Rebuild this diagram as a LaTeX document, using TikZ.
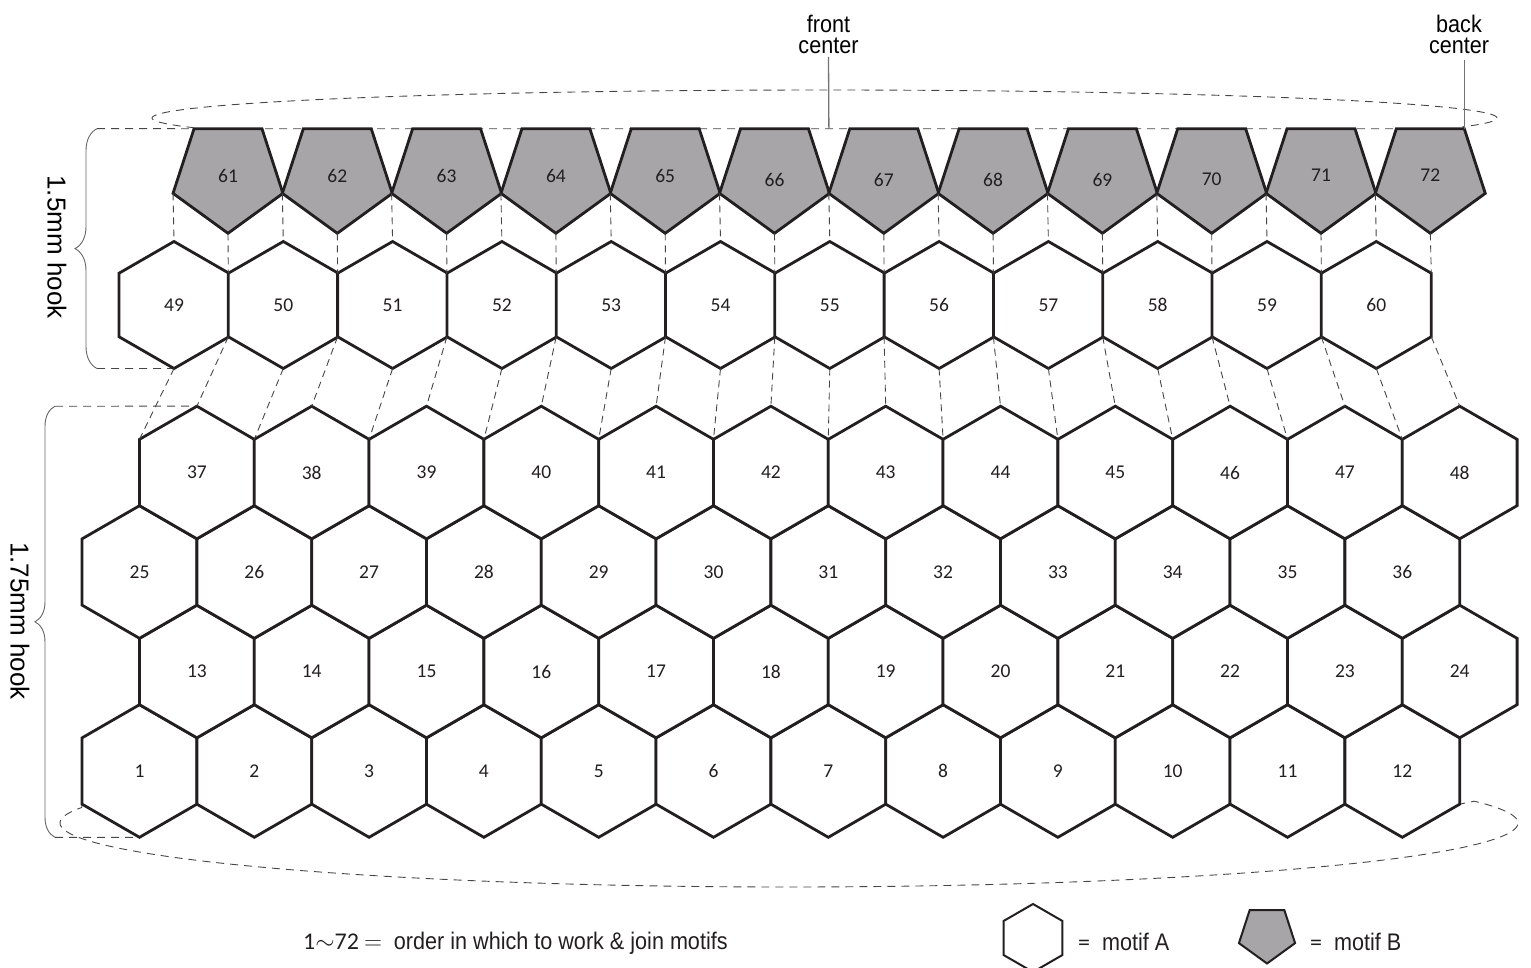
\documentclass[tikz,border=0pt]{standalone}
\usepackage{fontspec}
\setmainfont{Liberation Sans}
\newfontfamily\condfont{Liberation Sans}[FakeStretch=0.9]
\newfontfamily\numfont{Carlito}
\usetikzlibrary{shapes.geometric,decorations.pathreplacing}
\definecolor{ink}{RGB}{35,31,32}
\definecolor{pentgray}{RGB}{167,165,168}
\definecolor{dashgray}{RGB}{70,70,70}
\pgfdeclarelayer{bg}
\pgfsetlayers{bg,main}
\tikzset{
  motif/.style={regular polygon, draw=ink, line width=2.8pt, inner sep=0pt, outer sep=0pt,
    font=\numfont\fontsize{19.5}{21}\selectfont, text=ink, line join=miter},
  hexU/.style={motif, regular polygon sides=6, shape border rotate=30, minimum size=127pt, fill=white},
  hexL/.style={motif, regular polygon sides=6, shape border rotate=30, minimum size=132.6pt, fill=white},
  pent/.style={motif, regular polygon sides=5, shape border rotate=180, minimum size=115.6pt, fill=pentgray},
  conn/.style={draw=dashgray, line width=0.9pt, dash pattern=on 7pt off 5pt},
  guide/.style={draw=dashgray, line width=0.9pt, dash pattern=on 8pt off 6pt},
  leader/.style={draw=black!55, line width=1.3pt},
  bracestyle/.style={draw=black!60, line width=0.9pt, decorate},
  toplabel/.style={font=\condfont\fontsize{24}{21}\selectfont, align=center, inner sep=0pt, anchor=south},
  hooklabel/.style={font=\fontsize{26}{28}\selectfont, rotate=-90, inner sep=0pt},
  legtext/.style={font=\condfont\fontsize{24}{26}\selectfont, inner sep=0pt, anchor=base west, text=ink},
}
\begin{document}
\begin{tikzpicture}[x=1pt,y=-1pt]
\useasboundingbox (0,0) rectangle (1531,968);

% pentagons (motif B), 61-72
\foreach \i in {0,...,11} {
  \pgfmathtruncatemacro\n{61+\i}
  \pgfmathsetmacro\dy{(\i>4 && \i<10) ? -4 : 0}
  \node[pent] (p\i) at ({228+109.3*\i},175.5) {\raisebox{\dy pt}[\height][\depth]{\n}};
}
% upper hexagon row, 49-60
\foreach \i in {0,...,11} {
  \pgfmathtruncatemacro\n{49+\i}
  \node[hexU] (u\i) at ({174+109.3*\i},305) {\n};
}
% lower grid, 1-48
\foreach \r/\base/\off in {0/1/0, 1/13/57.4, 2/25/0, 3/37/57.4} {
  \foreach \i in {0,...,11} {
    \pgfmathtruncatemacro\n{\base+\i}
    \node[hexL] (h\n) at ({139.5+\off+114.8*\i},{771-99.5*\r}) {\n};
  }
}

% dashed joins: pentagons -> upper row
\foreach \i in {0,...,11} { \draw[conn] (p\i.198) -- (u\i.90); }
\foreach \i in {0,...,10} {
  \pgfmathtruncatemacro\j{\i+1}
  \draw[conn] (p\i.270) -- (u\j.150);
}
\draw[conn] (p11.270) -- (u11.30);

% dashed joins: upper row -> row 37-48
\foreach \i in {0,...,11} {
  \pgfmathtruncatemacro\n{37+\i}
  \draw[conn] (u\i.270) -- (h\n.150);
}
\foreach \i in {0,...,10} {
  \pgfmathtruncatemacro\n{37+\i}
  \pgfmathtruncatemacro\j{\i+1}
  \draw[conn] (u\j.210) -- (h\n.90);
}
\draw[conn] (u11.330) -- (h48.90);

% braces and guides
\coordinate (b1top) at (97,128.7);
\coordinate (b1bot) at (97,368.5);
\coordinate (b2top) at (55,406.2);
\coordinate (b2bot) at (55,837.3);
\begin{pgfonlayer}{bg}
  \draw[guide] (b1top) -- (p11.54);
  \draw[guide] (b1bot) -- (u0.270);
  \draw[guide] (b2top) -- (h37.90);
  \draw[guide] (b2bot) -- (h1.270);
  % top ring
  \draw[guide] (p0.126) -- plot[domain=0:1, samples=160]
    ({824.5+672.5*cos(200.1-218.5*\x)}, {118-28*sin(200.1-218.5*\x)}) -- (p11.54);
  % bottom ring
  \draw[guide] (h1.210) -- plot[domain=0:1, samples=180]
    ({789+729*cos(166+214*\x)}, {823-64*sin(166+214*\x)}) -- (h12.330);
\end{pgfonlayer}
\draw[bracestyle, decoration={brace, amplitude=22pt}] (b1bot) -- (b1top);
\draw[bracestyle, decoration={brace, amplitude=20pt}] (b2bot) -- (b2top);
\node[hooklabel] (hook1) at (57,247) {1.5mm hook};
\node[hooklabel] (hook2) at (20,621) {1.75mm hook};

% top labels
\node[toplabel] (fc) at (828.5,54) {front\\center};
\node[toplabel] (bc) at (1459,54) {back\\center};
\coordinate (fcend) at (828.9,128.7);
\draw[leader] (fc.south) ++(0,3) -- (fcend);
\draw[leader] (p11.54 |- bc.south) ++(0,6) -- (p11.54);

% legend
\node[legtext] (leg0) at (303,949)
  {{\numfont 1$\sim$72\hspace{5pt}$=$}\hspace{12pt}order in which to work \& join motifs};
\node[regular polygon, regular polygon sides=6, shape border rotate=30, minimum size=68pt,
  draw=ink, line width=2pt, fill=white, inner sep=0pt, outer sep=0pt] (legA) at (1033,938) {};
\node[regular polygon, regular polygon sides=5, shape border rotate=180, minimum size=59pt,
  draw=ink, line width=2pt, fill=pentgray, inner sep=0pt, outer sep=0pt] (legB) at (1267,934) {};
\node[legtext] (legAt) at (1078,950) {{\numfont =}\hspace{12pt}motif A};
\node[legtext] (legBt) at (1310,950) {{\numfont =}\hspace{12pt}motif B};
\end{tikzpicture}
\end{document}
